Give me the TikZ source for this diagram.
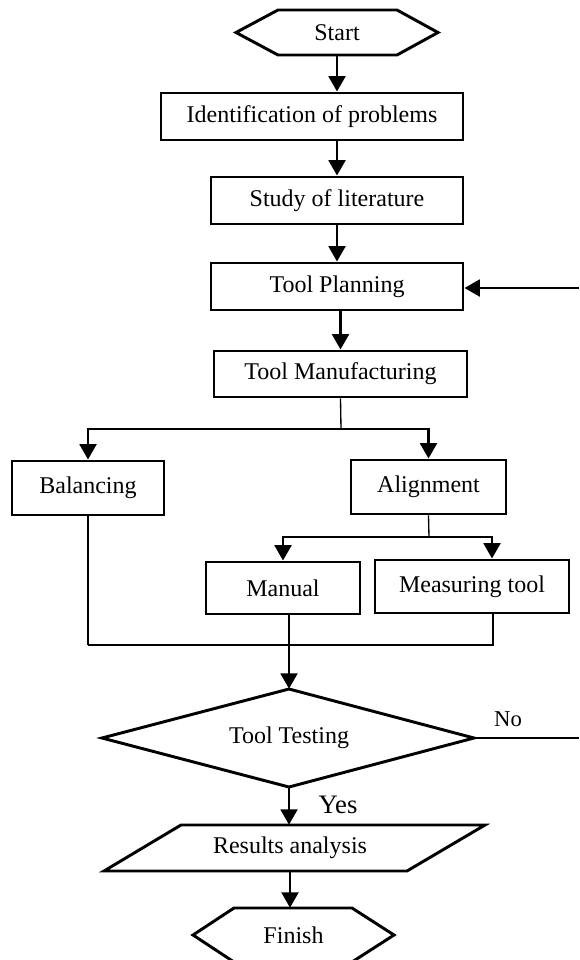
\documentclass[tikz,border=0pt]{standalone}
\usepackage{fontspec}
\setmainfont{Liberation Serif}
\usetikzlibrary{arrows.meta,calc}
\begin{document}
\begin{tikzpicture}[x=0.75pt,y=-0.75pt,
  box/.style={draw,line width=2.2pt,rectangle,inner sep=0pt,font=\fontsize{18}{20}\selectfont},
  txt/.style={inner sep=0pt,font=\fontsize{18}{20}\selectfont},
  shapeln/.style={line width=2.2pt,line join=miter},
  arr/.style={line width=2.2pt,-{Triangle[length=11.5pt,width=12.5pt]}},
  conn/.style={line width=2.2pt},
  thinconn/.style={line width=1pt},
  noconn/.style={line width=1.6pt}]
\useasboundingbox (0,0) rectangle (579,960);
\clip (0,0) rectangle (579,960);

% Start
\draw[shapeln] (278,10) -- (397,10) -- (438,32.5) -- (397,55) -- (278,55) -- (236,32.5) -- cycle;
\node[txt,minimum width={202*0.75pt},minimum height={45*0.75pt}] (start) at (337,32.5) {Start};

% boxes
\node[box,minimum width={302*0.75pt},minimum height={47*0.75pt}] (ident) at (312,116.5) {Identification of problems};
\node[box,minimum width={252*0.75pt},minimum height={47*0.75pt}] (study) at (337,200.5) {Study of literature};
\node[box,minimum width={252*0.75pt},minimum height={47*0.75pt}] (plan) at (337,286.5) {Tool Planning};
\node[box,minimum width={253*0.75pt},minimum height={46*0.75pt}] (manuf) at (340.5,374) {Tool Manufacturing};
\node[box,minimum width={152*0.75pt},minimum height={54*0.75pt}] (bal) at (88,488) {Balancing};
\node[box,minimum width={155*0.75pt},minimum height={54*0.75pt}] (align) at (428.5,487) {Alignment};
\node[box,minimum width={154*0.75pt},minimum height={52*0.75pt}] (man) at (283,588) {Manual};
\node[box,minimum width={194*0.75pt},minimum height={53*0.75pt}] (meas) at (472,586.5) {Measuring tool};

% decision
\draw[shapeln] (289,689) -- (474,738) -- (289,787) -- (102,738) -- cycle;
\node[txt,minimum width={371*0.75pt},minimum height={98*0.75pt}] (test) at (289,738) {Tool Testing};

% results
\draw[shapeln] (181,825) -- (485,825) -- (407,871) -- (104,871) -- cycle;
\node[txt,minimum width={200*0.75pt},minimum height={46*0.75pt}] (res) at (290,848) {Results analysis};

% finish
\draw[shapeln] (234,908) -- (352,908) -- (394,935) -- (352,962) -- (234,962) -- (193,935) -- cycle;
\node[txt,minimum width={201*0.75pt},minimum height={54*0.75pt}] (finish) at (293.5,935) {Finish};

% labels
\node[inner sep=0pt,font=\fontsize{20}{22}\selectfont] (yes) at (338,805) {Yes};
\node[inner sep=0pt,font=\fontsize{17}{19}\selectfont] (no) at (508,719) {No};

% coordinates
\coordinate (loopin) at (579,288);
\coordinate (split1) at (341,429);
\coordinate (split2) at (429,537);
\coordinate (meastop) at (492,537);
\coordinate (join) at (289,645);
\coordinate (balbot) at (88,645);
\coordinate (measbot) at (493,645);
\coordinate (noend) at (579,738);

% connectors
\draw[arr] (start.south) -- (start.south |- ident.north);
\draw[arr] (study.north |- ident.south) -- (study.north);
\draw[arr] (study.south) -- (plan.north);
\draw[arr] (loopin) -- (loopin -| plan.east);
\draw[arr] (manuf.north |- plan.south) -- (manuf.north);

\draw[thinconn] (manuf.south) -- (split1);
\draw[arr] (split1) -| (bal.north);
\draw[arr] (split1) -| (align.north);

\draw[thinconn] (align.south) -- (split2);
\draw[arr] (split2) -| (man.north);
\draw[arr] (split2) -- (meastop) -- (meastop |- meas.north);

\draw[thinconn] (bal.south) -- (balbot);
\draw[conn] (balbot) -- (join);
\draw[thinconn] (join |- man.south) -- (join);
\draw[thinconn] (measbot |- meas.south) -- (measbot) -- (join);
\draw[arr] (join) -- (test.north);

\draw[noconn] (test.east) -- (noend);
\draw[arr] (test.south) -- (test.south |- res.north);
\draw[arr] (res.south) -- (res.south |- finish.north);
\end{tikzpicture}
\end{document}
